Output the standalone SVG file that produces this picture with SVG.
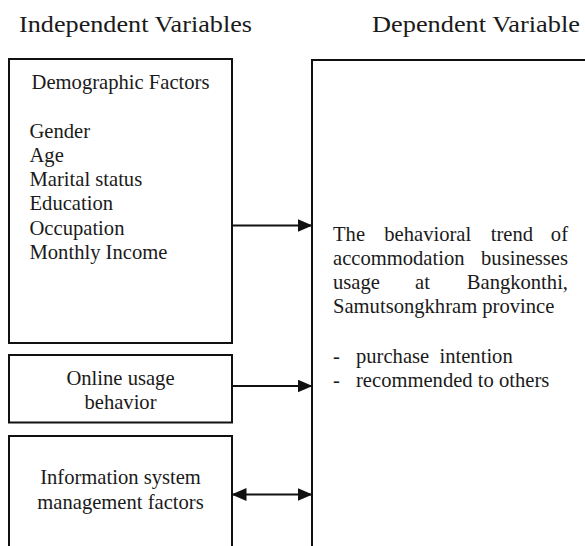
<svg xmlns="http://www.w3.org/2000/svg" width="585" height="546" viewBox="0 0 585 546">
<style>
text{font-family:"Liberation Serif","Times New Roman",serif;font-size:20.6px;fill:#1a1a1a}
.title{font-size:22.5px}
.box{fill:#fff;stroke:#111;stroke-width:2}
.conn{stroke:#111;stroke-width:2;fill:none}
.c{text-anchor:middle}
.e{text-anchor:end}
</style>
<defs>
<marker id="ah" markerWidth="15" markerHeight="13" refX="14.5" refY="6.5" orient="auto" markerUnits="userSpaceOnUse">
<path d="M0,0 L15,6.5 L0,13 Z" fill="#111"/>
</marker>
<marker id="ahs" markerWidth="15" markerHeight="13" refX="0.5" refY="6.5" orient="auto" markerUnits="userSpaceOnUse">
<path d="M15,0 L0,6.5 L15,13 Z" fill="#111"/>
</marker>
</defs>
<rect width="585" height="546" fill="#fff"/>
<text class="title" x="19" y="32" textLength="233" lengthAdjust="spacingAndGlyphs">Independent Variables</text>
<text class="title" x="372" y="32" textLength="208" lengthAdjust="spacingAndGlyphs">Dependent Variable</text>
<g id="demographic">
<rect class="box" x="9" y="59" width="223" height="284"/>
<text class="c" x="120.5" y="89">Demographic Factors</text>
<text x="29.5" y="137.5">Gender</text>
<text x="29.5" y="161.8">Age</text>
<text x="29.5" y="186.1">Marital status</text>
<text x="29.5" y="210.4">Education</text>
<text x="29.5" y="234.7">Occupation</text>
<text x="29.5" y="259">Monthly Income</text>
</g>
<g id="online">
<rect class="box" x="9" y="355" width="223" height="67.5"/>
<text class="c" x="120.5" y="385">Online usage</text>
<text class="c" x="120.5" y="408.5">behavior</text>
</g>
<g id="infosys">
<rect class="box" x="9" y="436" width="223" height="130"/>
<text class="c" x="120.5" y="483.5">Information system</text>
<text class="c" x="120.5" y="508.5">management factors</text>
</g>
<g id="dependent">
<rect class="box" x="312" y="60" width="300" height="520"/>
<text x="333" y="241">The</text>
<text x="384.3" y="241">behavioral</text>
<text x="490.7" y="241">trend</text>
<text class="e" x="568" y="241">of</text>
<text x="333" y="265">accommodation</text>
<text class="e" x="568" y="265">businesses</text>
<text x="333" y="289">usage</text>
<text x="415" y="289">at</text>
<text class="e" x="568" y="289">Bangkonthi,</text>
<text x="333" y="313">Samutsongkhram province</text>
<text x="333" y="362.5">-</text>
<text x="356" y="362.5" xml:space="preserve">purchase  intention</text>
<text x="333" y="386.5">-</text>
<text x="356" y="386.5">recommended to others</text>
</g>
<g id="connectors">
<line class="conn" x1="232" y1="225.5" x2="312" y2="225.5" marker-end="url(#ah)"/>
<line class="conn" x1="232" y1="386" x2="312" y2="386" marker-end="url(#ah)"/>
<line class="conn" x1="232" y1="494.5" x2="312" y2="494.5" marker-start="url(#ahs)" marker-end="url(#ah)"/>
</g>
</svg>
